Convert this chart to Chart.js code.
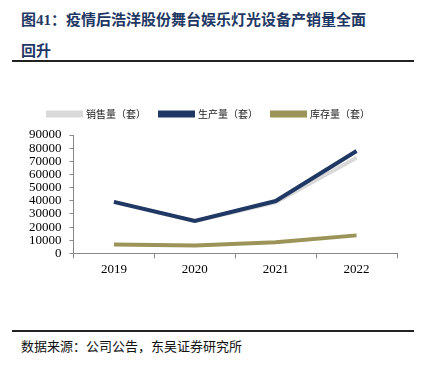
<!DOCTYPE html>
<html>
<head>
<meta charset="utf-8">
<script src="https://cdn.jsdelivr.net/npm/chart.js@4"></script>
<style>
  body { margin: 0; width: 437px; height: 376px; background: #fff; position: relative; overflow: hidden; }
  #title { position: absolute; left: 21px; top: 4px; width: 400px; font: bold 15px "Noto Sans CJK SC", sans-serif; color: #1f3864; line-height: 30px; }
  #title .num { font-family: "Liberation Serif", serif; }
  .rule { position: absolute; left: 12px; width: 402px; height: 2px; background: #222; }
  #wrap { position: absolute; left: 0; top: 92px; width: 437px; height: 188px; }
  #source { position: absolute; left: 21px; top: 336px; font: 13px "Noto Sans CJK SC", sans-serif; color: #111; }
</style>
</head>
<body>
<div id="title">图<span class="num">41</span>：疫情后浩洋股份舞台娱乐灯光设备产销量全面<br>回升</div>
<div class="rule" style="top:60px"></div>
<div id="wrap"><canvas id="chartCanvas"></canvas></div>
<div class="rule" style="top:330px"></div>
<div id="source">数据来源：公司公告，东吴证券研究所</div>
<script>
const years = ['2019', '2020', '2021', '2022'];
const salesQty = [39000, 24500, 38700, 72800];       // 销售量（套）
const productionQty = [39200, 24700, 39800, 77800];  // 生产量（套）
const inventoryQty = [6800, 6000, 8400, 13700];      // 库存量（套）

const ctx = document.getElementById('chartCanvas').getContext('2d');

// push the plot a little further below the legend
const legendGap = {
    id: 'legendGap',
    beforeInit(chart) {
        const fit = chart.legend.fit;
        chart.legend.fit = function () {
            fit.call(this);
            this.height += 6;
        };
    }
};

new Chart(ctx, {
    type: 'line',
    data: {
        labels: years,
        datasets: [
            // sales sits underneath production
            { label: '销售量（套）', data: salesQty, order: 2, borderColor: '#d9d9d9', backgroundColor: '#d9d9d9', borderWidth: 4, pointRadius: 0, tension: 0 },
            { label: '生产量（套）', data: productionQty, order: 0, borderColor: '#1f3864', backgroundColor: '#1f3864', borderWidth: 4, pointRadius: 0, tension: 0 },
            { label: '库存量（套）', data: inventoryQty, order: 1, borderColor: '#9c9359', backgroundColor: '#9c9359', borderWidth: 4, pointRadius: 0, tension: 0 }
        ]
    },
    options: {
        responsive: true,
        maintainAspectRatio: false,
        animation: false,
        layout: { padding: { left: 21, right: 40, top: 3, bottom: 0 } },
        scales: {
            x: {
                offset: true,
                grid: { offset: true, drawOnChartArea: false, tickLength: 5, color: '#888' },
                border: { color: '#888' },
                ticks: { color: '#000', font: { family: 'Liberation Serif', size: 13 }, padding: 3 }
            },
            y: {
                min: 0,
                max: 90000,
                ticks: {
                    stepSize: 10000, autoSkip: false, color: '#000',
                    font: { family: 'Liberation Serif', size: 13 }, padding: 8,
                    callback: v => String(v)
                },
                grid: { drawOnChartArea: false, tickLength: 4, color: '#888' },
                border: { color: '#888' }
            }
        },
        plugins: {
            legend: {
                position: 'top',
                labels: {
                    boxWidth: 33, boxHeight: 3, color: '#222',
                    font: { family: 'Noto Sans CJK SC', size: 10 }, padding: 14,
                    sort: (a, b) => a.datasetIndex - b.datasetIndex
                }
            },
            tooltip: { enabled: false }
        }
    },
    plugins: [legendGap]
});
</script>
</body>
</html>
